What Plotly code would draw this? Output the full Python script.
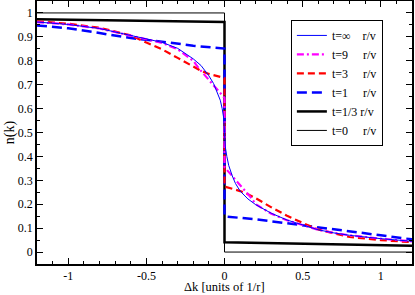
import plotly.graph_objects as go

# ---- data ----
k_t0 = [-1.2, 0.0, 0.0, 1.2]
n_t0 = [1.0, 1.0, 0.0, 0.0]

k_t13 = [-1.2, -0.6, 0.0, 0.0, 0.6, 1.2]
n_t13 = [0.974, 0.969, 0.962, 0.041, 0.033, 0.026]

k_t1 = [-1.2, -1.0, -0.8, -0.6, -0.4, -0.2, 0.0,
        0.0, 0.2, 0.4, 0.6, 0.8, 1.0, 1.2]
n_t1 = [0.948, 0.936, 0.916, 0.895, 0.880, 0.863, 0.851,
        0.149, 0.137, 0.121, 0.105, 0.088, 0.070, 0.053]

k_t3 = [-1.2, -1.0, -0.8, -0.6, -0.5, -0.4, -0.3, -0.2, -0.15, -0.1, -0.05, 0.0,
        0.0, 0.05, 0.1, 0.15, 0.2, 0.3, 0.4, 0.5, 0.6, 0.8, 1.0, 1.2]
n_t3 = [0.965, 0.955, 0.938, 0.906, 0.876, 0.848, 0.812, 0.776, 0.758, 0.745, 0.735, 0.728,
        0.274, 0.265, 0.255, 0.242, 0.225, 0.187, 0.152, 0.122, 0.094, 0.063, 0.050, 0.041]

k_t9 = [-1.2, -1.0, -0.8, -0.6, -0.5, -0.4, -0.3, -0.2, -0.164, -0.12, -0.09, -0.06, -0.03, 0.0,
        0.0, 0.03, 0.06, 0.09, 0.12, 0.164, 0.2, 0.3, 0.4, 0.5, 0.6, 0.7, 0.8, 1.0, 1.2]
n_t9 = [0.962, 0.952, 0.935, 0.906, 0.892, 0.875, 0.848, 0.800, 0.768, 0.735, 0.710, 0.688, 0.667, 0.645,
        0.355, 0.333, 0.312, 0.290, 0.265, 0.232, 0.200, 0.160, 0.133, 0.112, 0.093, 0.080, 0.070, 0.056, 0.045]

k_inf = [-1.2, -1.0, -0.8, -0.6, -0.5, -0.4, -0.3, -0.2, -0.15, -0.1, -0.07, -0.05, -0.027, -0.015, -0.005, 0.0,
         0.005, 0.015, 0.027, 0.05, 0.07, 0.1, 0.15, 0.2, 0.3, 0.4, 0.5, 0.6, 0.7, 0.8, 1.0, 1.2]
n_inf = [0.962, 0.952, 0.935, 0.907, 0.893, 0.877, 0.852, 0.808, 0.780, 0.737, 0.705, 0.675, 0.635, 0.600, 0.560, 0.500,
         0.440, 0.400, 0.362, 0.318, 0.287, 0.255, 0.222, 0.198, 0.162, 0.134, 0.112, 0.093, 0.080, 0.070, 0.056, 0.045]

x_tickvals = [-1, -0.5, 0, 0.5, 1]
x_ticktext = ["-1", "-0.5", "0", "0.5", "1"]
y_tickvals = [0, 0.1, 0.2, 0.3, 0.4, 0.5, 0.6, 0.7, 0.8, 0.9, 1.0]
y_ticktext = ["0", "0.1", "0.2", "0.3", "0.4", "0.5", "0.6", "0.7", "0.8", "0.9", "1"]

x_title = "\u0394k [units of 1/r]"
y_title = "n(k)"

NB = "\u00a0"
names = {
    "inf": "t=\u221e" + NB * 4 + "r/v",
    "9": "t=9" + NB * 5 + "r/v",
    "3": "t=3" + NB * 5 + "r/v",
    "1": "t=1" + NB * 5 + "r/v",
    "13": "t=1/3" + NB + "r/v",
    "0": "t=0" + NB * 5 + "r/v",
}

FONT = "Liberation Serif, Times New Roman, serif"

fig = go.Figure()
fig.add_trace(go.Scatter(x=k_t0, y=n_t0, mode="lines", name=names["0"],
                         line=dict(color="black", width=1)))
fig.add_trace(go.Scatter(x=k_t13, y=n_t13, mode="lines", name=names["13"],
                         line=dict(color="black", width=2.5)))
fig.add_trace(go.Scatter(x=k_t1, y=n_t1, mode="lines", name=names["1"],
                         line=dict(color="#0000ff", width=2.5, dash="10px,5px")))
fig.add_trace(go.Scatter(x=k_t3, y=n_t3, mode="lines", name=names["3"],
                         line=dict(color="#ff0000", width=2.2, dash="7px,4px")))
fig.add_trace(go.Scatter(x=k_t9, y=n_t9, mode="lines", name=names["9"],
                         line=dict(color="#ff00ff", width=2.2, dash="7px,3px,2px,3px")))
fig.add_trace(go.Scatter(x=k_inf, y=n_inf, mode="lines", name=names["inf"],
                         line=dict(color="#0000ff", width=1)))

axis_common = dict(showgrid=False, zeroline=False, showline=True, linecolor="black",
                   linewidth=1.5, mirror="ticks", ticks="inside", ticklen=6,
                   tickwidth=1.2, tickcolor="black", automargin=False,
                   tickfont=dict(family=FONT, size=12, color="black"))

fig.update_xaxes(range=[-1.2, 1.2], tickvals=x_tickvals, ticktext=x_ticktext,
                 minor=dict(dtick=0.1, tick0=0, ticks="inside", ticklen=3, tickcolor="black", tickwidth=1),
                 **axis_common)
fig.update_yaxes(range=[-0.05, 1.05], tickvals=y_tickvals, ticktext=y_ticktext,
                 minor=dict(dtick=0.05, tick0=0, ticks="inside", ticklen=3, tickcolor="black", tickwidth=1),
                 title=dict(text=y_title, font=dict(family=FONT, size=14, color="black"),
                            standoff=0),
                 **axis_common)

fig.add_annotation(text=x_title, x=0.5, y=0, xref="paper", yref="paper",
                   xanchor="center", yanchor="top", yshift=-15, showarrow=False,
                   borderpad=0,
                   font=dict(family=FONT, size=12.5, color="black"))

fig.update_layout(
    width=415, height=295,
    margin=dict(l=37, r=3, t=1, b=31),
    plot_bgcolor="white", paper_bgcolor="white",
    showlegend=True,
    legend=dict(x=0.677, y=0.928, xanchor="left", yanchor="top",
                traceorder="reversed",
                bgcolor="white", bordercolor="black", borderwidth=1,
                font=dict(family=FONT, size=12, color="black"),
                itemwidth=30, tracegroupgap=0),
)

fig.write_html("out.html", config={"displayModeBar": False},
               post_script="document.body.style.margin='0';document.body.style.padding='0';")
